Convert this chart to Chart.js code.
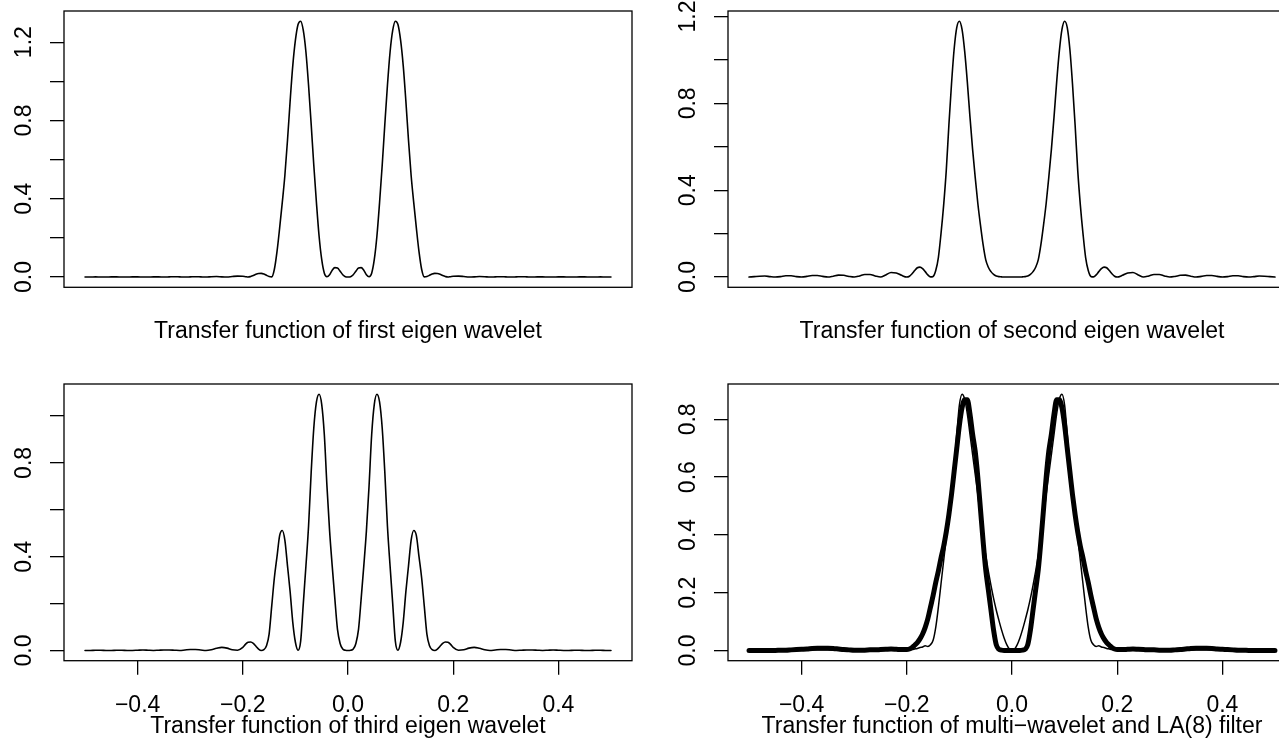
<!DOCTYPE html>
<html>
<head>
<meta charset="utf-8">
<script src="https://cdn.jsdelivr.net/npm/chart.js@4.4.0/dist/chart.umd.min.js"></script>
<style>
  html, body { margin: 0; padding: 0; background: #fff; overflow: hidden; width: 1279px; height: 743px; }
  .panel { position: absolute; width: 640px; }
  .top { top: 0; height: 370px; }
  .bot { top: 370px; height: 373px; }
  .left { left: 0; }
  .right { left: 664px; }
</style>
</head>
<body>
<div class="panel top left"><canvas id="c1"></canvas></div>
<div class="panel top right"><canvas id="c2"></canvas></div>
<div class="panel bot left"><canvas id="c3"></canvas></div>
<div class="panel bot right"><canvas id="c4"></canvas></div>
<script>
// frequency grid (finer in the pass band)
const freq = [
  -0.50,-0.49,-0.48,-0.47,-0.46,-0.45,-0.44,-0.43,-0.42,-0.41,
  -0.40,-0.39,-0.38,-0.37,-0.36,-0.35,-0.34,-0.33,-0.32,-0.31,
  -0.30,-0.29,-0.28,-0.27,-0.26,-0.25,-0.24,-0.23,-0.22,-0.21,
  -0.200,-0.195,-0.190,-0.185,-0.180,-0.175,-0.170,-0.165,-0.160,-0.155,
  -0.150,-0.145,-0.140,-0.135,-0.130,-0.125,-0.120,-0.115,-0.110,-0.105,
  -0.100,-0.095,-0.090,-0.085,-0.080,-0.075,-0.070,-0.065,-0.060,-0.055,
  -0.050,-0.045,-0.040,-0.035,-0.030,-0.025,-0.020,-0.015,-0.010,-0.005,
  0.000,
  0.005,0.010,0.015,0.020,0.025,0.030,0.035,0.040,0.045,0.050,
  0.055,0.060,0.065,0.070,0.075,0.080,0.085,0.090,0.095,0.100,
  0.105,0.110,0.115,0.120,0.125,0.130,0.135,0.140,0.145,0.150,
  0.155,0.160,0.165,0.170,0.175,0.180,0.185,0.190,0.195,0.200,
  0.21,0.22,0.23,0.24,0.25,0.26,0.27,0.28,0.29,0.30,
  0.31,0.32,0.33,0.34,0.35,0.36,0.37,0.38,0.39,0.40,
  0.41,0.42,0.43,0.44,0.45,0.46,0.47,0.48,0.49,0.50
];

const eigen1 = [
  0,0,.001,0,0,.001,.001,0,0,.001,
  .001,0,0,.001,.001,0,.001,.002,.001,0,
  .001,.002,.001,0,.002,.003,.001,0,.003,.005,
  .004,.002,0,.003,.008,.014,.018,.019,.016,.009,
  .003,.001,.040,.130,.250,.380,.520,.700,.900,1.080,
  1.210,1.290,1.307,1.260,1.150,.980,.780,.570,.380,.210,
  .090,.020,.002,.012,.035,.048,.046,.030,.012,.002,
  0,
  .002,.012,.030,.046,.048,.035,.012,.002,.020,.090,
  .210,.380,.570,.780,.980,1.150,1.260,1.307,1.290,1.210,
  1.080,.900,.700,.520,.380,.250,.130,.040,.001,.003,
  .009,.016,.019,.018,.014,.008,.003,0,.002,.004,
  .005,.003,0,.001,.003,.002,0,.001,.002,.001,
  0,.001,.002,.001,0,.001,.001,0,0,.001,
  .001,0,0,.001,.001,0,0,.001,0,0
];

const eigen2 = [
  0,.002,.004,.005,.002,0,.002,.006,.006,.002,
  0,.003,.007,.007,.003,0,.004,.009,.008,.003,
  0,.005,.012,.012,.005,0,.010,.021,.019,.008,
  0,.004,.015,.030,.043,.046,.039,.025,.010,.001,
  .003,.030,.090,.200,.330,.490,.700,.890,1.050,1.150,
  1.178,1.140,1.040,.900,.740,.590,.460,.340,.240,.150,
  .080,.045,.025,.012,.005,.002,.001,0,0,0,
  0,
  0,0,0,.001,.002,.005,.012,.025,.045,.080,
  .150,.240,.340,.460,.590,.740,.900,1.040,1.140,1.178,
  1.150,1.050,.890,.700,.490,.330,.200,.090,.030,.003,
  .001,.010,.025,.039,.046,.043,.030,.015,.004,0,
  .008,.019,.021,.010,0,.005,.012,.012,.005,0,
  .003,.008,.009,.004,0,.003,.007,.007,.003,0,
  .002,.006,.006,.002,0,.002,.005,.004,.002,0
];

const eigen3 = [
  0,0,.001,.001,0,0,.001,.001,0,0,
  .001,.002,.001,0,.001,.002,.002,.001,0,.002,
  .004,.004,.002,0,.003,.009,.013,.010,.003,.001,
  .013,.026,.035,.036,.030,.018,.006,0,.003,.020,
  .070,.190,.310,.400,.490,.512,.470,.360,.250,.120,
  .035,.001,.040,.200,.360,.530,.760,.950,1.060,1.093,
  1.050,.920,.700,.510,.360,.220,.090,.030,.006,.001,
  0,
  .001,.006,.030,.090,.220,.360,.510,.700,.920,1.050,
  1.093,1.060,.950,.760,.530,.360,.200,.040,.001,.035,
  .120,.250,.360,.470,.512,.490,.400,.310,.190,.070,
  .020,.003,0,.006,.018,.030,.036,.035,.026,.013,
  .001,.003,.010,.013,.009,.003,0,.002,.004,.004,
  .002,0,.001,.002,.002,.001,0,.001,.002,.001,
  0,0,.001,.001,0,0,.001,.001,0,0
];

// multi-wavelet (thick) and LA(8) (thin)
const multiWave = [
  0,0,0,0,0,0,.001,.001,.002,.003,
  .004,.005,.007,.008,.008,.008,.007,.005,.003,.002,
  .001,.001,.001,.002,.002,.003,.004,.005,.004,.003,
  .003,.005,.010,.018,.027,.040,.057,.080,.110,.150,
  .190,.235,.275,.320,.360,.410,.470,.540,.620,.700,
  .780,.840,.868,.868,.820,.750,.690,.600,.490,.380,
  .280,.210,.140,.070,.020,.004,.001,0,0,0,
  0,
  0,0,0,.001,.004,.020,.070,.140,.210,.280,
  .380,.490,.600,.690,.750,.820,.868,.868,.840,.780,
  .700,.620,.540,.470,.410,.360,.320,.275,.235,.190,
  .150,.110,.080,.057,.040,.027,.018,.010,.005,.003,
  .003,.004,.005,.004,.003,.002,.002,.001,.001,.001,
  .002,.003,.005,.007,.008,.008,.008,.007,.005,.004,
  .003,.002,.001,.001,0,0,0,0,0,0
];

const la8 = [
  0,0,0,0,0,0,0,0,0,0,
  .001,.001,.002,.002,.002,.002,.001,.001,0,0,
  .001,.001,.001,.002,.002,.002,.003,.003,.002,.002,
  .001,.002,.003,.005,.007,.010,.012,.016,.014,.020,
  .035,.080,.150,.230,.310,.390,.470,.550,.640,.750,
  .850,.887,.870,.820,.750,.680,.610,.540,.460,.390,
  .330,.275,.225,.180,.140,.105,.072,.043,.020,.005,
  0,
  .005,.020,.043,.072,.105,.140,.180,.225,.275,.330,
  .390,.460,.540,.610,.680,.750,.820,.870,.887,.850,
  .750,.640,.550,.470,.390,.310,.230,.150,.080,.035,
  .020,.014,.016,.012,.010,.007,.005,.003,.002,.001,
  .002,.002,.003,.003,.002,.002,.002,.001,.001,.001,
  0,0,.001,.001,.002,.002,.002,.002,.001,.001,
  0,0,0,0,0,0,0,0,0,0
];

const xTicks = [-0.4, -0.2, 0.0, 0.2, 0.4];

Chart.defaults.font.family = "'Liberation Sans', Arial, Helvetica, sans-serif";
Chart.defaults.font.size = 23;
Chart.defaults.color = '#000';
Chart.defaults.animation = false;

// R style box round the plot region
const boxPlugin = {
  id: 'box',
  afterDraw(chart) {
    const a = chart.chartArea;
    const ctx = chart.ctx;
    ctx.save();
    ctx.strokeStyle = '#000';
    ctx.lineWidth = 1.3;
    ctx.strokeRect(a.left, a.top, a.right - a.left, a.bottom - a.top);
    ctx.restore();
  }
};

function yRange(list) {
  const all = [].concat(...list);
  const lo = Math.min(...all), hi = Math.max(...all);
  const pad = 0.04 * (hi - lo);
  return [lo - pad, hi + pad];
}

function fmtX(v) {
  return (v < -1e-9 ? '\u2212' : '') + Math.abs(v).toFixed(1);
}

function makePanel(id, series, widths, title, p) {
  const r = yRange(series);
  const datasets = series.map(function (s, k) {
    return {
      data: freq.map(function (f, i) { return { x: f, y: s[i] }; }),
      borderColor: '#000',
      borderWidth: widths[k],
      pointRadius: 0,
      fill: false,
      cubicInterpolationMode: 'monotone',
      borderJoinStyle: 'round',
      borderCapStyle: 'round'
    };
  });
  new Chart(document.getElementById(id), {
    type: 'line',
    data: { datasets: datasets },
    plugins: [boxPlugin],
    options: {
      responsive: true,
      maintainAspectRatio: false,
      layout: { padding: { top: p.top, left: 0, right: 8, bottom: 0 } },
      plugins: { legend: { display: false }, tooltip: { enabled: false } },
      scales: {
        x: {
          type: 'linear',
          min: -0.54,
          max: 0.54,
          afterBuildTicks: function (s) { s.ticks = xTicks.map(function (v) { return { value: v }; }); },
          ticks: {
            display: p.showX,
            autoSkip: false,
            maxRotation: 0,
            padding: 17.5,
            callback: fmtX
          },
          grid: { display: p.showX, drawOnChartArea: false, drawTicks: true, tickLength: 14, color: '#000', lineWidth: 1.3 },
          border: { display: false },
          title: { display: true, text: title, padding: { top: 0, bottom: p.tpad } },
          afterFit: function (s) {
            s.height = p.xh;
            s.paddingLeft = 0;
            s.paddingRight = 0;
          }
        },
        y: {
          min: r[0],
          max: r[1],
          ticks: {
            stepSize: 0.2,
            includeBounds: false,
            autoSkip: false,
            minRotation: 90,
            maxRotation: 90,
            crossAlign: 'center',
            padding: 9.2,
            callback: function (v) {
              if (p.every === 2 && Math.round(v * 10) % 4 !== 0) return '';
              return v.toFixed(1);
            }
          },
          grid: { drawOnChartArea: false, drawTicks: true, tickLength: 14, color: '#000', lineWidth: 1.3 },
          border: { display: false },
          afterFit: function (s) {
            s.width = 64;
            s.paddingTop = 0;
            s.paddingBottom = 0;
          }
        }
      }
    }
  });
}

makePanel('c1', [eigen1], [1.6], 'Transfer function of first eigen wavelet',
  { top: 11, xh: 82.7, tpad: 24.1, showX: false, every: 2 });
makePanel('c2', [eigen2], [1.6], 'Transfer function of second eigen wavelet',
  { top: 11, xh: 82.7, tpad: 24.1, showX: false, every: 2 });
makePanel('c3', [eigen3], [1.6], 'Transfer function of third eigen wavelet',
  { top: 14, xh: 82.3, tpad: 2.6, showX: true, every: 2 });
makePanel('c4', [multiWave, la8], [5, 1.5], 'Transfer function of multi\u2212wavelet and LA(8) filter',
  { top: 14, xh: 82.3, tpad: 2.6, showX: true, every: 1 });
</script>
</body>
</html>
